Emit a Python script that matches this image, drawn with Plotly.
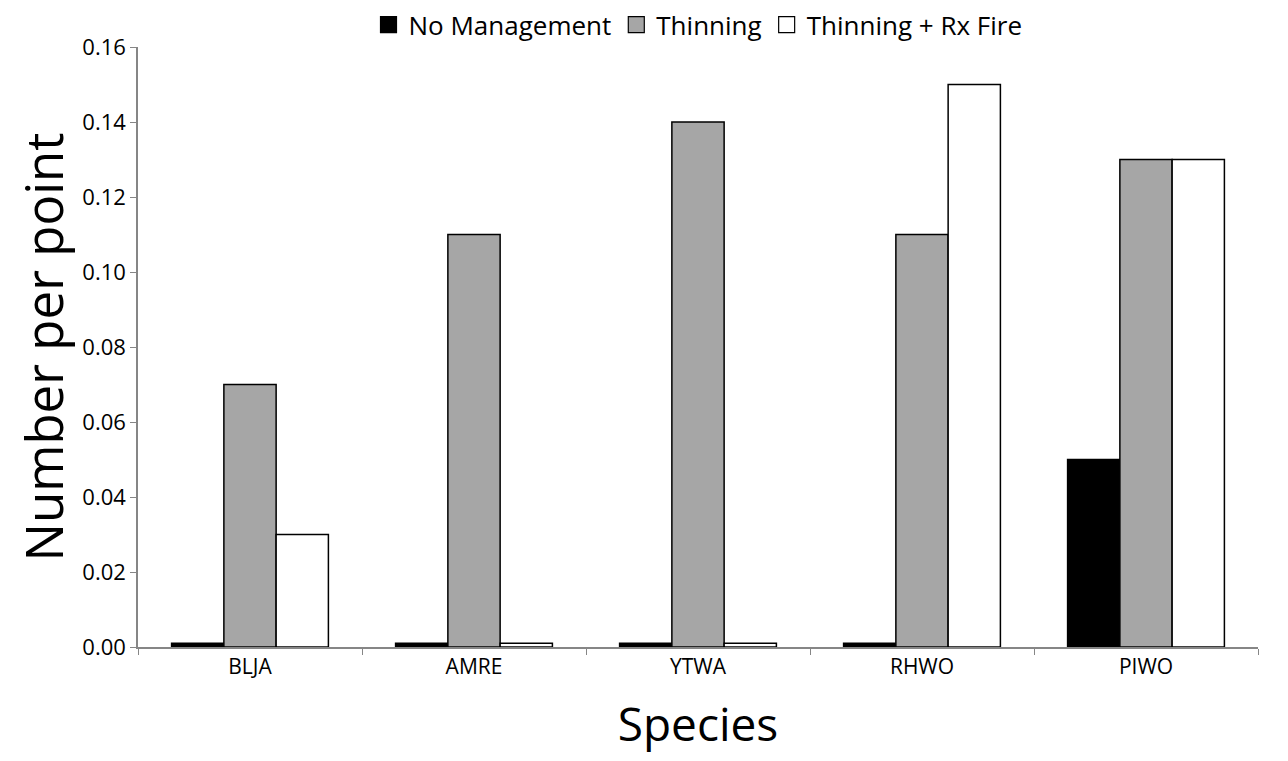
import plotly.graph_objects as go

species = ["BLJA", "AMRE", "YTWA", "RHWO", "PIWO"]
no_mgmt = [0.001, 0.001, 0.001, 0.001, 0.05]
thinning = [0.07, 0.11, 0.14, 0.11, 0.13]
thin_fire = [0.03, 0.001, 0.001, 0.15, 0.13]
series_names = ["No Management", "Thinning", "Thinning + Rx Fire"]
y_ticks = [0.00, 0.02, 0.04, 0.06, 0.08, 0.10, 0.12, 0.14, 0.16]

font_family = "Open Sans, Liberation Sans, sans-serif"
colors = ["black", "#a6a6a6", "white"]

fig = go.Figure()
for name, vals, col in zip(series_names, [no_mgmt, thinning, thin_fire], colors):
    fig.add_trace(go.Bar(name=name, x=species, y=vals, showlegend=False,
                         marker=dict(color=col, line=dict(color="black", width=1.5))))
for name, col in zip(series_names, colors):
    fig.add_trace(go.Scatter(name=name, x=[None], y=[None], mode="markers",
                             marker=dict(symbol="square", size=17, color=col,
                                         line=dict(color="black", width=1.2))))

fig.update_layout(
    width=1288, height=761,
    barmode="group", bargap=0.30, bargroupgap=0,
    plot_bgcolor="white", paper_bgcolor="white",
    margin=dict(l=130, r=38, t=39, b=122, autoexpand=False),
    font=dict(family=font_family, color="black"),
    legend=dict(orientation="h", x=0.5, xanchor="center", y=1.037, yanchor="middle",
                font=dict(size=26), traceorder="normal", itemwidth=30,
                bgcolor="rgba(0,0,0,0)"),
    xaxis=dict(
        title=dict(text="Species", font=dict(size=46), standoff=30),
        tickfont=dict(size=21), showline=True, linecolor="#868686", linewidth=1.5,
        ticks="outside", tickson="boundaries", ticklen=6, tickcolor="#868686",
        showgrid=False, automargin=False,
    ),
    yaxis=dict(
        title=dict(text="Number per point", font=dict(size=51), standoff=16),
        range=[0, 0.16], tickvals=y_ticks, tickformat=".2f",
        tickfont=dict(size=22), showline=True, linecolor="#868686", linewidth=1.5,
        ticks="outside", ticklen=6, tickcolor="#868686", showgrid=False, zeroline=False,
        automargin=False,
    ),
)

fig.write_html("out.html")
